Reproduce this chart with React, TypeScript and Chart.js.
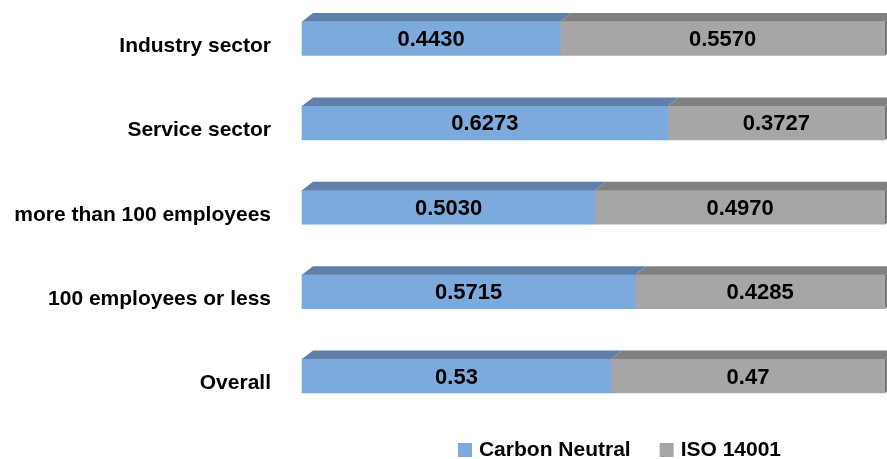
import React, { useEffect, useRef } from "react";
import { Chart, registerables } from "chart.js";

Chart.register(...registerables);

const categories = [
  "Industry sector",
  "Service sector",
  "more than 100 employees",
  "100 employees or less",
  "Overall",
];
const carbonNeutral = [0.443, 0.6273, 0.503, 0.5715, 0.53];
const iso14001 = [0.557, 0.3727, 0.497, 0.4285, 0.47];
const carbonLabels = ["0.4430", "0.6273", "0.5030", "0.5715", "0.53"];
const isoLabels = ["0.5570", "0.3727", "0.4970", "0.4285", "0.47"];
const seriesNames = ["Carbon Neutral", "ISO 14001"];

const FONT = '"Liberation Sans", Arial, sans-serif';
const frontColors = ["#7CAADC", "#A6A6A6"];
const topColors = ["#6080AA", "#808080"];
const sideColors = ["#5A78A0", "#787878"];

const threeD = {
  id: "threeD",
  afterDatasetsDraw(chart: any) {
    const ctx = chart.ctx;
    const dx = 11;
    const dy = 8.5;
    const area = chart.chartArea;
    const labelsArr = [carbonLabels, isoLabels];
    ctx.save();
    chart.data.datasets.forEach((ds: any, di: number) => {
      const meta = chart.getDatasetMeta(di);
      meta.data.forEach((bar: any, i: number) => {
        const left = Math.min(bar.base, bar.x);
        const right = Math.max(bar.base, bar.x);
        const top = bar.y - bar.height / 2;
        const bottom = bar.y + bar.height / 2;
        // top face
        ctx.fillStyle = topColors[di];
        ctx.beginPath();
        ctx.moveTo(left, top);
        ctx.lineTo(left + dx, top - dy);
        ctx.lineTo(right + dx, top - dy);
        ctx.lineTo(right, top);
        ctx.closePath();
        ctx.fill();
        // right side face for last segment
        if (di === chart.data.datasets.length - 1) {
          ctx.fillStyle = sideColors[di];
          ctx.beginPath();
          ctx.moveTo(right, top);
          ctx.lineTo(right + dx, top - dy);
          ctx.lineTo(right + dx, bottom - dy);
          ctx.lineTo(right, bottom);
          ctx.closePath();
          ctx.fill();
        }
        // value label
        ctx.fillStyle = "#000000";
        ctx.font = `bold 22px ${FONT}`;
        ctx.textAlign = "center";
        ctx.textBaseline = "middle";
        ctx.fillText(labelsArr[di][i], (left + right) / 2, bar.y + 1.5);
      });
    });
    // category labels
    const yScale = chart.scales.y;
    ctx.font = `bold 21px ${FONT}`;
    ctx.fillStyle = "#000000";
    ctx.textAlign = "right";
    ctx.textBaseline = "middle";
    categories.forEach((c, i) => {
      const y = yScale.getPixelForValue(i);
      ctx.fillText(c, area.left - 31, y + 7.5);
    });
    // legend
    ctx.font = `bold 21px ${FONT}`;
    const sq = 14;
    const gapText = 7;
    const gapItem = 29;
    const widths = seriesNames.map((n) => sq + gapText + ctx.measureText(n).width);
    const total = widths.reduce((a, b) => a + b, 0) + gapItem * (seriesNames.length - 1);
    let x = 619.5 - total / 2;
    const ly = 450;
    ctx.textAlign = "left";
    seriesNames.forEach((n, i) => {
      ctx.fillStyle = frontColors[i];
      ctx.fillRect(x, ly - sq / 2, sq, sq);
      ctx.fillStyle = "#000000";
      ctx.fillText(n, x + sq + gapText, ly);
      x += widths[i] + gapItem;
    });
    ctx.restore();
  },
};

export default function App() {
  const ref = useRef<HTMLCanvasElement | null>(null);
  useEffect(() => {
    if (!ref.current) return;
    const chart = new Chart(ref.current, {
      type: "bar",
      data: {
        labels: categories,
        datasets: [
          {
            label: seriesNames[0],
            data: carbonNeutral,
            backgroundColor: frontColors[0],
            barThickness: 34,
            clip: false as any,
          },
          {
            label: seriesNames[1],
            data: iso14001,
            backgroundColor: frontColors[1],
            barThickness: 34,
            clip: false as any,
          },
        ],
      },
      options: {
        indexAxis: "y",
        responsive: false,
        animation: false,
        layout: { padding: { left: 302, right: 2, top: 38.5, bottom: 83 } },
        plugins: { legend: { display: false }, tooltip: { enabled: false } },
        scales: {
          x: { stacked: true, min: 0, max: 1, display: false },
          y: { stacked: true, display: false, offset: false },
        },
      },
      plugins: [threeD],
    });
    return () => chart.destroy();
  }, []);
  return (
    <div style={{ position: "fixed", left: 0, top: 0, width: 887, height: 459, background: "#fff" }}>
      <canvas ref={ref} width={887} height={459} style={{ width: 887, height: 459 }} />
    </div>
  );
}
